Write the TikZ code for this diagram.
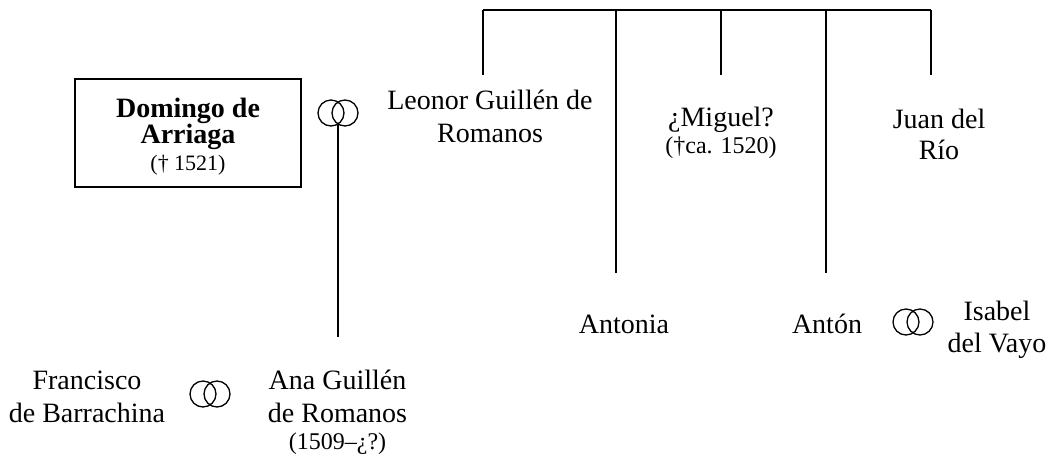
\documentclass[tikz,border=0pt]{standalone}
\usepackage{fontspec}
\setmainfont{Liberation Serif}
\newcommand\smlA[1]{{\fontsize{24}{27}\selectfont #1}}
\newcommand\smlB[1]{{\fontsize{22}{26}\selectfont #1}}
\tikzset{
  person/.style={align=center, font=\fontsize{28}{33}\selectfont, inner sep=0pt, anchor=base},
  boxed/.style={draw, line width=1.6pt, align=center, font=\fontsize{28}{26}\selectfont,
    minimum width=226pt, minimum height=108pt, inner sep=0pt},
  conn/.style={line width=1.6pt},
  ringline/.style={line width=1.3pt}
}
\begin{document}
\begin{tikzpicture}[x=1pt,y=-1pt]
\useasboundingbox (0,0) rectangle (1056,459);

% persons (anchor base = baseline of the last line)
\node[boxed] (domingo) at (188,133) {\rule{0pt}{27pt}\textbf{Domingo de}\\\textbf{Arriaga}\\[1pt]\smlB{(† 1521)}};
\node[person] (leonor) at (490,142) {Leonor Guillén de\\Romanos};
\node[person] (miguel) at (721,153) {¿Miguel?\\[-6pt]\smlA{(†ca. 1520)}};
\node[person] (juan) at (939,159) {Juan del\\[-2pt]Río};
\node[person] (antonia) at (624,333) {Antonia};
\node[person] (anton) at (827,333) {Antón};
\node[person] (isabel) at (997,352) {Isabel\\[-1pt]del Vayo};
\node[person] (francisco) at (87,422) {Francisco\\de Barrachina};
\node[person] (ana) at (337.5,449) {Ana Guillén\\de Romanos\\[-6pt]\smlA{(1509–¿?)}};

% marriage rings
\coordinate (r1) at (338,113);
\coordinate (r2) at (210,394);
\coordinate (r3) at (913,322);
\foreach \r in {r1,r2,r3}{
  \draw[ringline] (\r) ++(-7,0) circle[radius=13];
  \draw[ringline] (\r) ++(7,0) circle[radius=13];
}

% descent line from marriage to Ana
\coordinate (r1b) at (338,124);
\coordinate (anatop) at (338,337);
\draw[conn] (r1b) -- (anatop);

% sibling bar
\coordinate (bL) at (483,10);
\coordinate (bA) at (616,10);
\coordinate (bM) at (721,10);
\coordinate (bT) at (826,10);
\coordinate (bR) at (931,10);
\coordinate (eL) at (483,75);
\coordinate (eA) at (616,273);
\coordinate (eM) at (721,75);
\coordinate (eT) at (826,273);
\coordinate (eR) at (931,75);
\draw[conn] (bL) -- (bR);
\draw[conn] (bL) -- (eL);
\draw[conn] (bA) -- (eA);
\draw[conn] (bM) -- (eM);
\draw[conn] (bT) -- (eT);
\draw[conn] (bR) -- (eR);
\end{tikzpicture}
\end{document}
